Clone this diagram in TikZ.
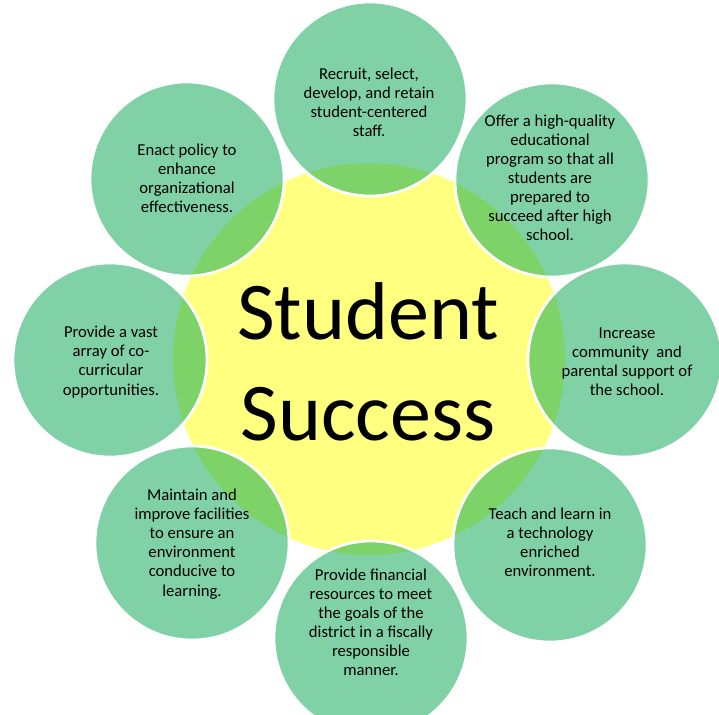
\documentclass[tikz,border=0pt]{standalone}
\usepackage{fontspec}
\setmainfont{Carlito}
\definecolor{mint}{RGB}{128,210,166}
\definecolor{lensg}{RGB}{126,211,104}
\definecolor{sun}{RGB}{255,255,128}
\begin{document}
\begin{tikzpicture}[x=0.75pt,y=-0.75pt,
  hub/.style={circle,fill=sun,minimum size=294pt,inner sep=0pt},
  petal/.style={circle,fill=mint,minimum size=145.5pt,inner sep=0pt},
  rim/.style={white,line width=2pt},
  label/.style={align=center,font=\fontsize{12.5pt}{14.3pt}\selectfont,inner sep=0pt},
  big/.style={font=\fontsize{61.5pt}{75pt}\selectfont,inner sep=0pt,anchor=base}]
\useasboundingbox (0,0) rectangle (719,715);
\fill[white] (0,0) rectangle (719,715);
\node[hub] (ctr) at (369,359) {};
\node[petal] (p1) at (370,99) {};
\node[petal] (p2) at (552,180) {};
\node[petal] (p3) at (625,360) {};
\node[petal] (p4) at (550,545) {};
\node[petal] (p5) at (371,638) {};
\node[petal] (p6) at (192,543) {};
\node[petal] (p7) at (110,360) {};
\node[petal] (p8) at (187,179) {};
\begin{scope}
  \clip (ctr.center) circle[radius=147pt];
  \foreach \p in {p1,p2,p3,p4,p5,p6,p7,p8}
    \fill[lensg] (\p.center) circle[radius=72.75pt];
\end{scope}
\foreach \p in {p1,p2,p3,p4,p5,p6,p7,p8}
  \draw[rim] (\p.center) circle[radius=72.75pt];
\node[label] (t1) at (369,102) {Recruit, select,\\develop, and retain\\student-centered\\staff.};
\node[label] (t2) at (550,178) {Offer a high-quality\\educational\\program so that all\\students are\\prepared to\\succeed after high\\school.};
\node[label] (t3) at (627,362) {Increase\\community\ \ and\\parental support of\\the school.};
\node[label] (t4) at (550,542) {Teach and learn in\\a technology\\enriched\\environment.};
\node[label] (t5) at (371,622) {Provide financial\\resources to meet\\the goals of the\\district in a fiscally\\responsible\\manner.};
\node[label] (t6) at (192,544) {Maintain and\\improve facilities\\to ensure an\\environment\\conducive to\\learning.};
\node[label] (t7) at (111,362) {Provide a vast\\array of co-\\curricular\\opportunities.};
\node[label] (t8) at (187,178) {Enact policy to\\enhance\\organizational\\effectiveness.};
\node[big] (s1) at (368,339) {Student};
\node[big] (s2) at (368,440) {Success};
\end{tikzpicture}
\end{document}
